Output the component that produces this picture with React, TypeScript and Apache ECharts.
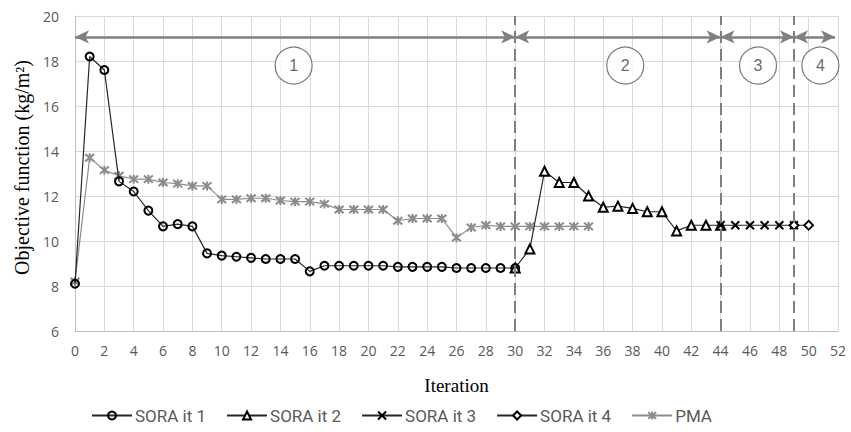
import React, { useEffect, useRef } from "react";
import * as echarts from "echarts";

// Data (iteration start index + values)
const SORA1_START = 0;
const SORA1 = [8.1, 18.2, 17.6, 12.65, 12.2, 11.35, 10.65, 10.75, 10.65, 9.45, 9.35, 9.3, 9.25, 9.2, 9.2, 9.2, 8.65, 8.9, 8.9, 8.9, 8.9, 8.9, 8.85, 8.85, 8.85, 8.85, 8.8, 8.8, 8.8, 8.8, 8.8];
const SORA2_START = 30;
const SORA2 = [8.8, 9.65, 13.1, 12.6, 12.6, 12.0, 11.5, 11.55, 11.45, 11.3, 11.3, 10.45, 10.7, 10.7, 10.7];
const SORA3_START = 44;
const SORA3 = [10.7, 10.7, 10.7, 10.7, 10.7, 10.7];
const SORA4_START = 49;
const SORA4 = [10.7, 10.7];
const PMA_START = 0;
const PMA = [8.2, 13.7, 13.15, 12.9, 12.75, 12.75, 12.6, 12.55, 12.45, 12.45, 11.85, 11.85, 11.9, 11.9, 11.8, 11.75, 11.75, 11.65, 11.4, 11.4, 11.4, 11.4, 10.9, 11.0, 11.0, 11.0, 10.15, 10.6, 10.7, 10.65, 10.65, 10.65, 10.65, 10.65, 10.65, 10.65];

// Phase annotations
const PHASE_BOUNDS = [30, 44, 49];
const PHASE_ARROWS: [number, number][] = [[0, 30], [30, 44], [44, 49], [49, 51.8]];
const PHASE_LABELS = ["1", "2", "3", "4"];
const PHASE_LABEL_X = [14.9, 37.5, 46.55, 50.8];
const ARROW_Y = 19.07;
const LABEL_Y = 17.8;

const toPairs = (start: number, vals: number[]) => vals.map((v, i) => [start + i, v]);

const TICK_FONT = "'Open Sans', sans-serif";
const LEGEND_FONT = "Roboto, 'Open Sans', sans-serif";
const SERIF = "'Liberation Serif', 'DejaVu Serif', serif";

export default function App() {
  const ref = useRef<HTMLDivElement>(null);
  useEffect(() => {
    if (!ref.current) return;
    const chart = echarts.init(ref.current, undefined, { renderer: "svg" });
    const xPath = "path://M0,0L10,10M10,0L0,10";
    const starPath = "path://M1,1L9,9M9,1L1,9M5,0L5,10";
    chart.setOption({
      animation: false,
      backgroundColor: "#ffffff",
      grid: { left: 75, right: 13, top: 16, bottom: 101 },
      xAxis: {
        type: "value",
        min: 0,
        max: 52,
        interval: 2,
        name: "Iteration",
        nameLocation: "middle",
        nameGap: 45,
        nameTextStyle: { fontFamily: SERIF, fontSize: 19, color: "#000" },
        axisLine: { show: true, lineStyle: { color: "#bfbfbf", width: 1 } },
        axisTick: { show: false },
        axisLabel: { color: "#595959", fontSize: 14, fontFamily: TICK_FONT, margin: 12 },
        splitLine: { show: true, lineStyle: { color: "#d9d9d9", width: 1 } },
      },
      yAxis: {
        type: "value",
        min: 6,
        max: 20,
        interval: 2,
        name: "Objective function (kg/m²)",
        nameLocation: "middle",
        nameGap: 40,
        nameTextStyle: { fontFamily: SERIF, fontSize: 20, color: "#000", padding: [0, 0, 0, 12] },
        axisLine: { show: true, lineStyle: { color: "#bfbfbf", width: 1 } },
        axisTick: { show: false },
        axisLabel: { color: "#595959", fontSize: 14, fontFamily: TICK_FONT, margin: 16 },
        splitLine: { show: true, lineStyle: { color: "#d9d9d9", width: 1 } },
      },
      legend: {
        left: 86,
        top: 402,
        itemWidth: 40,
        itemHeight: 10,
        itemGap: 20,
        textStyle: { color: "#595959", fontSize: 17, fontFamily: LEGEND_FONT, padding: [0, 0, 0, -2] },
        data: ["SORA it 1", "SORA it 2", "SORA it 3", "SORA it 4", "PMA"],
      },
      series: [
        {
          name: "PMA",
          type: "line",
          data: toPairs(PMA_START, PMA),
          symbol: starPath,
          symbolSize: 9,
          lineStyle: { color: "#8c8c8c", width: 1.2 },
          itemStyle: { color: "#8c8c8c", borderColor: "#8c8c8c", borderWidth: 2 },
          z: 2,
        },
        {
          name: "SORA it 1",
          type: "line",
          data: toPairs(SORA1_START, SORA1),
          symbol: "circle",
          symbolSize: 8,
          lineStyle: { color: "#262626", width: 1.2 },
          itemStyle: { color: "rgba(255,255,255,0)", borderColor: "#000", borderWidth: 2 },
          z: 3,
        },
        {
          name: "SORA it 2",
          type: "line",
          data: toPairs(SORA2_START, SORA2),
          symbol: "triangle",
          symbolSize: 9,
          lineStyle: { color: "#262626", width: 1.2 },
          itemStyle: { color: "#ffffff", borderColor: "#000", borderWidth: 2 },
          z: 3,
        },
        {
          name: "SORA it 3",
          type: "line",
          data: toPairs(SORA3_START, SORA3),
          symbol: xPath,
          symbolSize: 8,
          lineStyle: { color: "#262626", width: 1.2 },
          itemStyle: { color: "#000", borderColor: "#000", borderWidth: 2 },
          z: 3,
        },
        {
          name: "SORA it 4",
          type: "line",
          data: toPairs(SORA4_START, SORA4),
          symbol: "diamond",
          symbolSize: 9,
          lineStyle: { color: "#262626", width: 1.2 },
          itemStyle: { color: "#ffffff", borderColor: "#000", borderWidth: 1.8 },
          z: 3,
        },
        {
          name: "phases",
          type: "scatter",
          silent: true,
          data: PHASE_LABELS.map((l, i) => ({ value: [PHASE_LABEL_X[i], LABEL_Y], name: l })),
          symbol: "circle",
          symbolSize: 37,
          itemStyle: { color: "#ffffff", borderColor: "#595959", borderWidth: 1.2 },
          label: {
            show: true,
            position: "inside",
            formatter: (p: any) => p.name,
            color: "#404040",
            fontSize: 16,
            fontFamily: "'Liberation Sans', sans-serif",
          },
          z: 1,
          markLine: {
            silent: true,
            animation: false,
            symbol: ["none", "none"],
            label: { show: false },
            data: [
              ...PHASE_BOUNDS.map((b) => ({
                xAxis: b,
                lineStyle: { type: [12, 6], color: "#7f7f7f", width: 2 },
              })),
              ...PHASE_ARROWS.map(([a, b]) => [
                { coord: [a, ARROW_Y], symbol: "arrow", symbolSize: [10, 14] },
                { coord: [b, ARROW_Y], symbol: "arrow", symbolSize: [10, 14] },
              ]),
            ],
            lineStyle: { type: "solid", color: "#808080", width: 2.5 },
          },
        },
      ],
    });
    return () => chart.dispose();
  }, []);
  return <div ref={ref} style={{ width: 851, height: 432, position: "absolute", left: 0, top: 0 }} />;
}
